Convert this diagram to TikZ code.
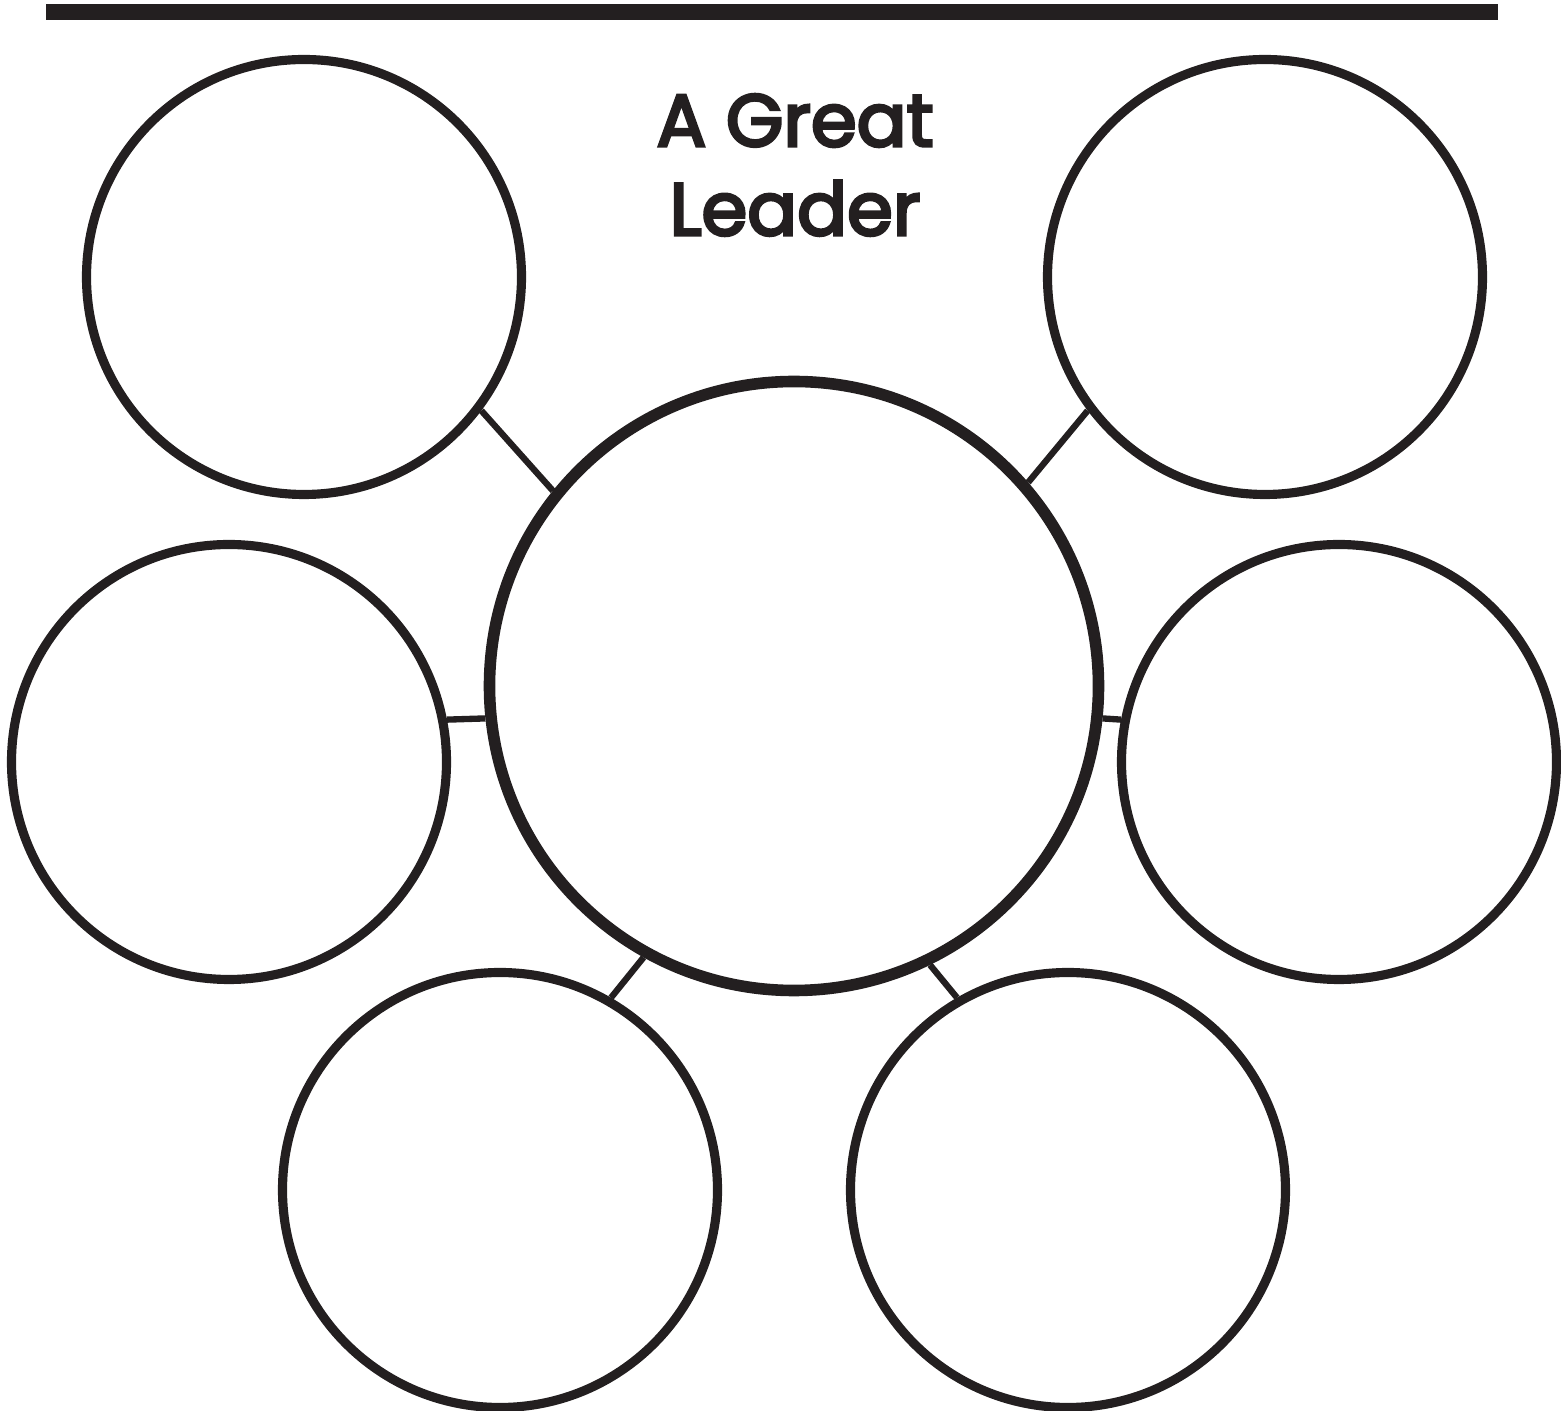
\documentclass[tikz,border=0pt]{standalone}
\usepackage{fontspec}
\setmainfont{Poppins}
\newfontfamily\titlefont{Poppins}[FakeBold=4]
\definecolor{ink}{RGB}{35,31,32}

\begin{document}
\begin{tikzpicture}[bubble/.style={circle, draw=ink, line width=2.6pt, minimum size=4.35cm, inner sep=0pt},hub/.style={circle, draw=ink, line width=3.3pt, minimum size=6.09cm, inner sep=0pt},link/.style={draw=ink, line width=1.8pt}]
\useasboundingbox (0,0) rectangle (15.61,14.11);
\fill[ink] (0.46,13.91) rectangle (14.98,14.07);
\node[font=\titlefont\fontsize{21}{25.3}\selectfont, text=ink, align=center] (title) at (7.95,12.46) {A Great\\Leader};
\node[hub] (hub) at (7.94,7.25) {};
\node[bubble] (tl) at (3.04,11.34) {};\node[bubble] (tr) at (12.65,11.34) {};
\node[bubble] (ml) at (2.29,6.49) {};\node[bubble] (mr) at (13.39,6.49) {};
\node[bubble] (bl) at (5.00,2.21) {};\node[bubble] (br) at (10.68,2.21) {};
\draw[link] (tl.323) -- (hub.141);\draw[link] (tr.217) -- (hub.41);
\draw[link] (ml.11) -- (hub.186);\draw[link] (mr.169) -- (hub.354);
\draw[link] (bl.60) -- (hub.241);\draw[link] (br.120) -- (hub.296);
\end{tikzpicture}
\end{document}
